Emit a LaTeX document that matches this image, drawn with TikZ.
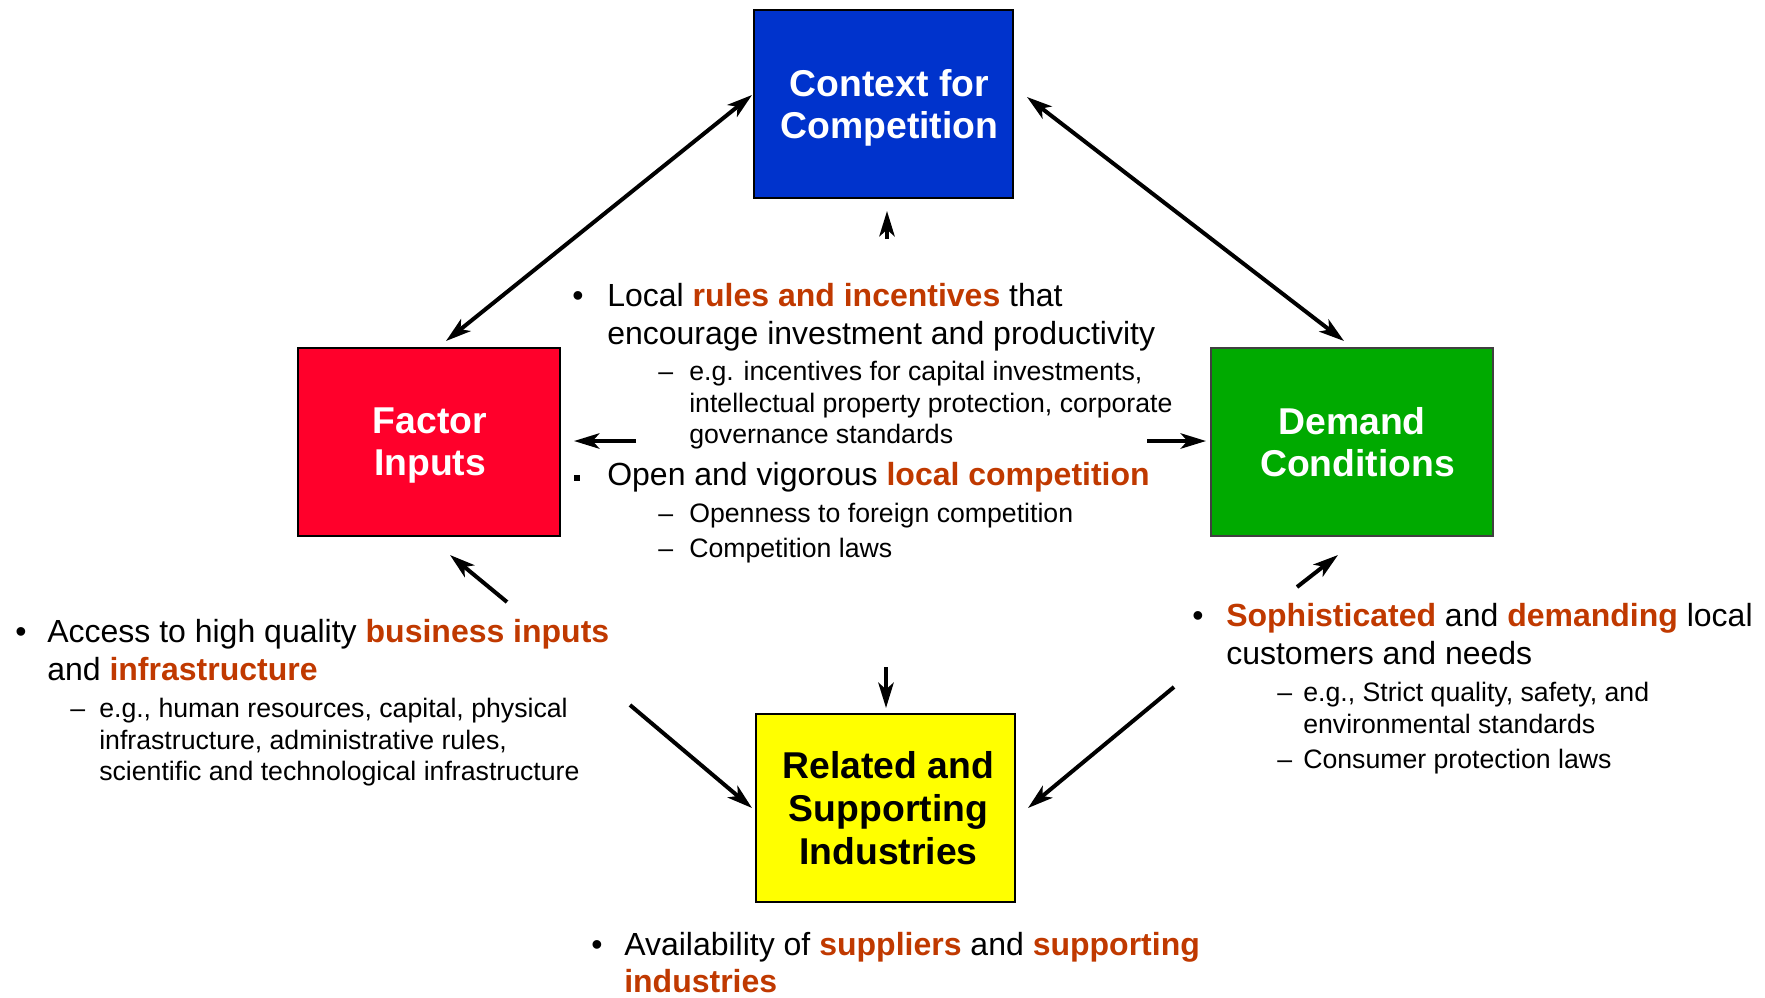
\documentclass[tikz,border=0pt]{standalone}
\usepackage{fontspec}
\setmainfont{Liberation Sans}
\usetikzlibrary{arrows.meta}
\definecolor{ctxblue}{RGB}{0,51,204}
\definecolor{facred}{RGB}{255,0,43}
\definecolor{demgreen}{RGB}{0,170,0}
\definecolor{relyellow}{RGB}{255,255,0}
\definecolor{kwcolor}{RGB}{192,57,0}
\definecolor{demborder}{RGB}{64,64,64}
\newcommand{\kw}[1]{{\color{kwcolor}\bfseries #1}}
\begin{document}
\begin{tikzpicture}[x=0.75pt,y=-0.75pt,
  box/.style={draw=black, line width=1.5pt, inner sep=0pt, minimum height=141pt},
  boxtext/.style={inner sep=0pt, align=center, font=\fontsize{28}{31.5}\selectfont\bfseries},
  tip/.tip={Stealth[length=19pt,width=11.5pt,inset=5pt]},
  link/.style={line width=3pt, -tip},
  both/.style={line width=3pt, tip-tip},
  main/.style={anchor=base west, inner sep=0pt, font=\fontsize{24}{28}\selectfont},
  sub/.style={anchor=base west, inner sep=0pt, font=\fontsize{20}{24}\selectfont},
  sqbullet/.style={fill=black, inner sep=0pt, minimum size=4.5pt},
]
\useasboundingbox (0,0) rectangle (1765,997);

% the four corners of the diamond
\node[box, fill=ctxblue, minimum width=194.25pt] (ctx) at (883.5,104) {};
\node[box, fill=facred, minimum width=196.5pt] (fac) at (429,442) {};
\node[box, fill=demgreen, draw=demborder, line width=2pt, minimum width=211.5pt] (dem) at (1352,442) {};
\node[box, fill=relyellow, minimum width=194.25pt] (rel) at (885.5,808) {};

\node[boxtext, text=white] (ctxt) at ([shift={(6,3.5)}]ctx.center) {Context for\\Competition};
\node[boxtext, text=white] (fact) at ([shift={(1,3.5)}]fac.center) {Factor\\Inputs};
\node[boxtext, text=white] (demt) at (dem.center) {Demand\\\hspace*{8.4pt}Conditions};
\node[boxtext, text=black, font=\fontsize{28}{32.2}\selectfont\bfseries] (relt) at ([shift={(3,0)}]rel.center) {Related and\\Supporting\\Industries};

% arrow end points
\coordinate (a1s) at (446,341);  \coordinate (a1e) at (752,95);
\coordinate (a2s) at (1027,97);  \coordinate (a2e) at (1344,341);
\coordinate (a3s) at (887,239);  \coordinate (a3e) at (887,211);
\coordinate (a4s) at (636,441);  \coordinate (a4e) at (574,441);
\coordinate (a5s) at (1147,441); \coordinate (a5e) at (1206,441);
\coordinate (a6s) at (507,602);  \coordinate (a6e) at (450,555);
\coordinate (a7s) at (1297,587); \coordinate (a7e) at (1338,555);
\coordinate (a8s) at (886,667);  \coordinate (a8e) at (886,708);
\coordinate (a9s) at (630,705);  \coordinate (a9e) at (752,808);
\coordinate (a10s) at (1174,687); \coordinate (a10e) at (1028,808);

\draw[both] (a1s) -- (a1e);
\draw[both] (a2s) -- (a2e);
\draw[link] (a3s) -- (a3e);
\draw[link] (a4s) -- (a4e);
\draw[link] (a5s) -- (a5e);
\draw[link] (a6s) -- (a6e);
\draw[link] (a7s) -- (a7e);
\draw[link] (a8s) -- (a8e);
\draw[link] (a9s) -- (a9e);
\draw[link] (a10s) -- (a10e);

% context for competition
\node[main] (cb1) at (572,306) {•};
\node[main] (c1) at (607,306) {Local \kw{rules and incentives} that};
\node[main] (c2) at (607,344) {encourage investment and productivity};
\node[sub] (cd1) at (658,380) {–};
\node[sub] (c3) at (689,380) {e.g. incentives for capital investments,};
\node[sub] (c4) at (689,412) {intellectual property protection, corporate};
\node[sub] (c5) at (689,443) {governance standards};
\node[sqbullet] (cb2) at (577,478) {};
\node[main] (c6) at (607,485) {Open and vigorous \kw{local competition}};
\node[sub] (cd2) at (658,522) {–};
\node[sub] (c7) at (689,522) {Openness to foreign competition};
\node[sub] (cd3) at (658,557) {–};
\node[sub] (c8) at (689,557) {Competition laws};

% factor inputs
\node[main] (fb1) at (15,642) {•};
\node[main] (f1) at (47,642) {Access to high quality \kw{business inputs}};
\node[main] (f2) at (47,680) {and \kw{infrastructure}};
\node[sub] (fd1) at (70,717) {–};
\node[sub] (f3) at (99,717) {e.g., human resources, capital, physical};
\node[sub] (f4) at (99,749) {infrastructure, administrative rules,};
\node[sub] (f5) at (99,780) {scientific and technological infrastructure};

% demand conditions
\node[main] (db1) at (1192,626) {•};
\node[main] (d1) at (1226,626) {\kw{Sophisticated} and \kw{demanding} local};
\node[main] (d2) at (1226,664) {customers and needs};
\node[sub] (dd1) at (1277,701) {–};
\node[sub] (d3) at (1303,701) {e.g., Strict quality, safety, and};
\node[sub] (d4) at (1303,733) {environmental standards};
\node[sub] (dd2) at (1277,768) {–};
\node[sub] (d5) at (1303,768) {Consumer protection laws};

% related and supporting industries
\node[main] (rb1) at (591,955) {•};
\node[main] (r1) at (624,955) {Availability of \kw{suppliers} and \kw{supporting}};
\node[main] (r2) at (624,992) {\kw{industries}};
\end{tikzpicture}
\end{document}
